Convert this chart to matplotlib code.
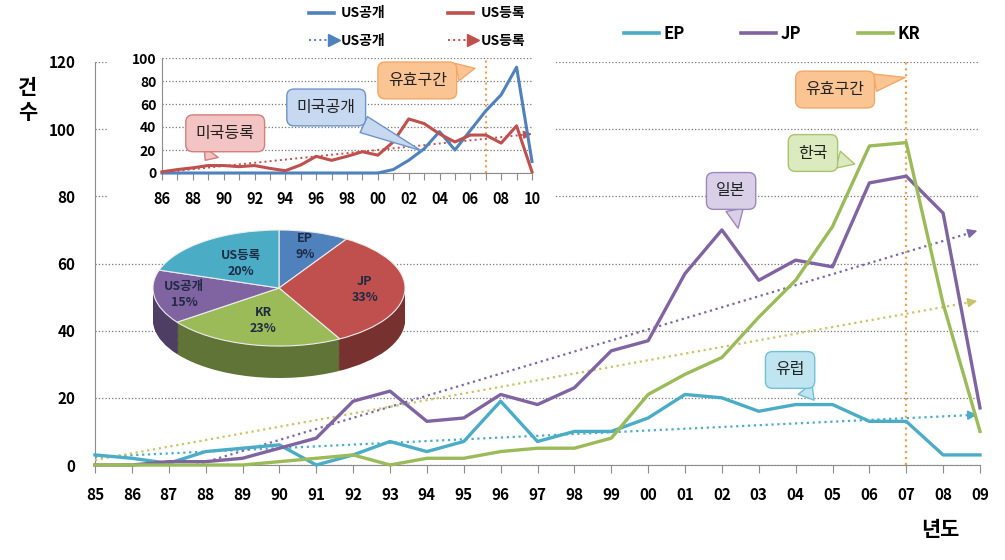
import numpy as np
import matplotlib
matplotlib.use('Agg')
import matplotlib.pyplot as plt
from matplotlib.lines import Line2D
from matplotlib.patches import Rectangle
from matplotlib.legend_handler import HandlerLine2D

plt.rcParams['font.family'] = ['Noto Sans CJK KR', 'DejaVu Sans']

# main chart data (85 ~ 09)
years = ['85', '86', '87', '88', '89', '90', '91', '92', '93', '94', '95', '96', '97',
         '98', '99', '00', '01', '02', '03', '04', '05', '06', '07', '08', '09']
ep = [3, 2, 0.5, 4, 5, 6, 0, 3, 7, 4, 7, 19, 7, 10, 10, 14, 21, 20, 16, 18, 18, 13, 13, 3, 3]
jp = [0, 0, 1, 1, 2, 5, 8, 19, 22, 13, 14, 21, 18, 23, 34, 37, 57, 70, 55, 61, 59, 84, 86, 75, 17]
kr = [0, 0, 0, 0, 0, 1, 2, 3, 0, 2, 2, 4, 5, 5, 8, 21, 27, 32, 44, 55, 71, 95, 96, 48, 10]
# trend lines (value at 85, value at 09)
ep_trend = [2.4, 15]
jp_trend = [-9, 70]
kr_trend = [1.5, 49]

# inset data (86 ~ 10)
us_years = ['86', '87', '88', '89', '90', '91', '92', '93', '94', '95', '96', '97', '98',
            '99', '00', '01', '02', '03', '04', '05', '06', '07', '08', '09', '10']
us_pub = [0, 0, 0, 0, 0, 0, 0, 0, 0, 0, 0, 0, 0, 0, 0, 3, 11, 21, 36, 20, 37, 54, 68, 92, 10]
us_reg = [1, 3, 4.5, 6.5, 6.5, 5.5, 6.5, 4, 2, 7, 14.5, 11, 14.5, 18.5, 15.5, 27, 47, 43, 34, 27,
          33, 33, 26, 41, 1]
reg_trend = [0.5, 34]

# pie data
pie_labels = ['EP', 'JP', 'KR', 'US공개', 'US등록']
pie_vals = [9, 33, 23, 15, 20]

c_ep, c_jp, c_kr = '#4BACC6', '#8064A2', '#9BBB59'
c_pub, c_reg = '#4F81BD', '#C0504D'
pie_colors = ['#4F81BD', '#C0504D', '#9BBB59', '#8064A2', '#4BACC6']

fig = plt.figure(figsize=(10.05, 5.6), dpi=100)

W, H = 1005, 560
def fr(x0, y0, x1, y1):
    # pixel box (top-left origin) -> figure fraction rect
    return [x0 / W, 1 - y1 / H, (x1 - x0) / W, (y1 - y0) / H]

def callout(ax, text, box, tip, fc, ec, fs=11.5):
    ax.annotate(text, xy=tip, xytext=box, ha='center', va='center', fontsize=fs,
                color='#222222', zorder=20, annotation_clip=False,
                bbox=dict(boxstyle='round,pad=0.62,rounding_size=0.45', fc=fc, ec=ec, lw=1),
                arrowprops=dict(arrowstyle='wedge,tail_width=1.1,shrink_factor=0.5',
                                fc=fc, ec=ec, lw=1, shrinkA=0, shrinkB=0))

def trend(ax, xs, ends, c, lw, ms):
    xe = xs[-1] - 0.35
    ye = ends[0] + (ends[1] - ends[0]) * (xe - xs[0]) / (xs[-1] - xs[0])
    ax.plot([xs[0], xe], [ends[0], ye], ls=':', color=c, lw=lw, zorder=4)
    ax.annotate('', xy=(xs[-1], ends[1]), xytext=(xe, ye),
                arrowprops=dict(arrowstyle='-|>', color=c, lw=1.1, mutation_scale=ms),
                zorder=4, annotation_clip=False)

class EndArrow(HandlerLine2D):
    def create_artists(self, *args, **kwargs):
        arts = super().create_artists(*args, **kwargs)
        for a in arts:
            if a.get_marker() not in (None, 'None', '', ' '):
                a.set_markevery([len(a.get_xdata()) - 1])
        return arts

# ---------------- main chart ----------------
ax = fig.add_axes(fr(95, 62, 980, 465))
ax.set_zorder(0)
x = np.arange(len(years))
for vals, c, lab in [(ep, c_ep, 'EP'), (jp, c_jp, 'JP'), (kr, c_kr, 'KR')]:
    ax.plot(x, vals, color=c, lw=2.4, label=lab, clip_on=False, zorder=5)

trend(ax, x, ep_trend, '#4BACC6', 1.6, 14)
trend(ax, x, jp_trend, '#7A68A6', 1.6, 14)
trend(ax, x, kr_trend, '#C9C46A', 1.6, 14)

ax.axvline(22, color='#F0A050', ls=':', lw=1.6, zorder=3)
ax.set_xlim(0, 24)
ax.set_ylim(0, 120)
ax.set_yticks(range(0, 121, 20))
ax.set_xticks(x)
ax.set_xticklabels(years)
ax.yaxis.grid(True, ls=':', color='#777777', lw=0.9)
for s in ['top', 'right']:
    ax.spines[s].set_visible(False)
ax.spines['left'].set_color('#8C8C8C')
ax.spines['bottom'].set_color('#8C8C8C')
ax.tick_params(axis='y', length=0, pad=14, labelsize=11)
ax.tick_params(axis='x', length=6, direction='out', color='#8C8C8C', pad=10, labelsize=11)
for t in ax.get_xticklabels() + ax.get_yticklabels():
    t.set_fontweight('bold')

callout(ax, '유효구간', (20.07, 111.8), (21.97, 115.4), '#FBC493', '#F2A868')
callout(ax, '한국', (19.47, 92.9), (20.6, 89.6), '#DCEAC0', '#A9C46C')
callout(ax, '일본', (17.25, 81.6), (17.44, 70.5), '#D9D0E8', '#9C88BC')
callout(ax, '유럽', (18.85, 28.3), (19.5, 19.3), '#BFE6F0', '#72C0D3')

fig.text(28 / W, 1 - 100 / H, '건\n수', fontsize=15, fontweight='bold', ha='center',
         va='center', linespacing=1.2)
fig.text(940 / W, 1 - 530 / H, '년도', fontsize=15, fontweight='bold', ha='center', va='center')

h = [Line2D([], [], color=c, lw=2.6) for c in [c_ep, c_jp, c_kr]]
fig.legend(h, ['EP', 'JP', 'KR'], ncol=3, loc='center', bbox_to_anchor=(772 / W, 1 - 34 / H),
           frameon=False, handlelength=2.1, handletextpad=0.25, columnspacing=3.4,
           prop=dict(weight='bold', size=12))

# white panel behind inset
fig.add_artist(Rectangle((107 / W, 1 - 215 / H), 448 / W, 215 / H, transform=fig.transFigure,
                         fc='white', ec='none', zorder=0.5))

# ---------------- inset chart ----------------
ia = fig.add_axes(fr(162, 58, 532, 173))
ia.set_zorder(1)
ia.patch.set_alpha(0)
xi = np.arange(len(us_years))
ia.plot(xi, us_pub, color=c_pub, lw=2.2, clip_on=False, zorder=5)
ia.plot(xi, us_reg, color=c_reg, lw=2.2, clip_on=False, zorder=6)
trend(ia, xi, reg_trend, '#C0504D', 1.4, 12)
ia.axvline(21, color='#F0A050', ls=':', lw=1.5, zorder=3)
ia.set_xlim(0, 24)
ia.set_ylim(0, 100)
ia.set_yticks(range(0, 101, 20))
ia.set_xticks(xi)
ia.set_xticklabels([y if i % 2 == 0 else '' for i, y in enumerate(us_years)])
ia.yaxis.grid(True, ls=':', color='#777777', lw=0.9)
for s in ['top', 'right']:
    ia.spines[s].set_visible(False)
ia.spines['left'].set_color('#8C8C8C')
ia.spines['bottom'].set_color('#8C8C8C')
ia.tick_params(axis='y', length=0, pad=4, labelsize=10)
ia.tick_params(axis='x', length=5, direction='out', color='#8C8C8C', pad=8, labelsize=10.5)
for t in ia.get_xticklabels() + ia.get_yticklabels():
    t.set_fontweight('bold')

callout(ia, '유효구간', (16.56, 80.5), (20.3, 91), '#FBC493', '#F2A868')
callout(ia, '미국공개', (10.65, 57), (16.8, 19.5), '#C6D9F1', '#6F94C8')
callout(ia, '미국등록', (4.1, 34.5), (2.8, 11), '#F2C4C3', '#D27F7D')

ih = [Line2D([], [], color=c_pub, lw=2.6),
      Line2D([], [], color=c_pub, lw=1.4, ls=':', marker='>', ms=8),
      Line2D([], [], color=c_reg, lw=2.6),
      Line2D([], [], color=c_reg, lw=1.4, ls=':', marker='>', ms=8)]
fig.legend(ih, ['US공개', 'US공개', 'US등록', 'US등록'], ncol=2, loc='center',
           bbox_to_anchor=(415 / W, 1 - 27 / H), frameon=False, numpoints=2,
           handler_map={Line2D: EndArrow()},
           handlelength=2.4, handletextpad=0.25, columnspacing=4.2, labelspacing=0.95,
           prop=dict(weight='bold', size=10))

# ---------------- 3D-like pie ----------------
pa = fig.add_axes(fr(153, 230, 405, 378))
pa.set_zorder(2)
pa.patch.set_alpha(0)
depth = 0.55
dark = [tuple(v * 0.62 for v in matplotlib.colors.to_rgb(c)) for c in pie_colors]
for off in np.linspace(depth, 0.02, 28):
    pa.pie(pie_vals, colors=dark, startangle=90, counterclock=False, center=(0, -off),
           wedgeprops=dict(lw=0))
pa.pie(pie_vals, colors=pie_colors, startangle=90, counterclock=False,
       wedgeprops=dict(lw=0.8, ec='#EDEDED'))
pa.set_aspect('auto')
pa.set_xlim(-1.0, 1.0)
pa.set_ylim(-1 - depth, 1.0)
pa.axis('off')

cum = np.cumsum([0] + pie_vals[:-1])
radii = [0.74, 0.68, 0.58, 0.76, 0.52]
for lab, v, c0, r in zip(pie_labels, pie_vals, cum, radii):
    ang = np.deg2rad(90 - (c0 + v / 2) / 100 * 360)
    pa.text(r * np.cos(ang), r * np.sin(ang), f'{lab}\n{v}%', ha='center', va='center',
            fontsize=9, fontweight='bold', color='#1F2A44', linespacing=1.3)

plt.savefig('out.png', dpi=100)
